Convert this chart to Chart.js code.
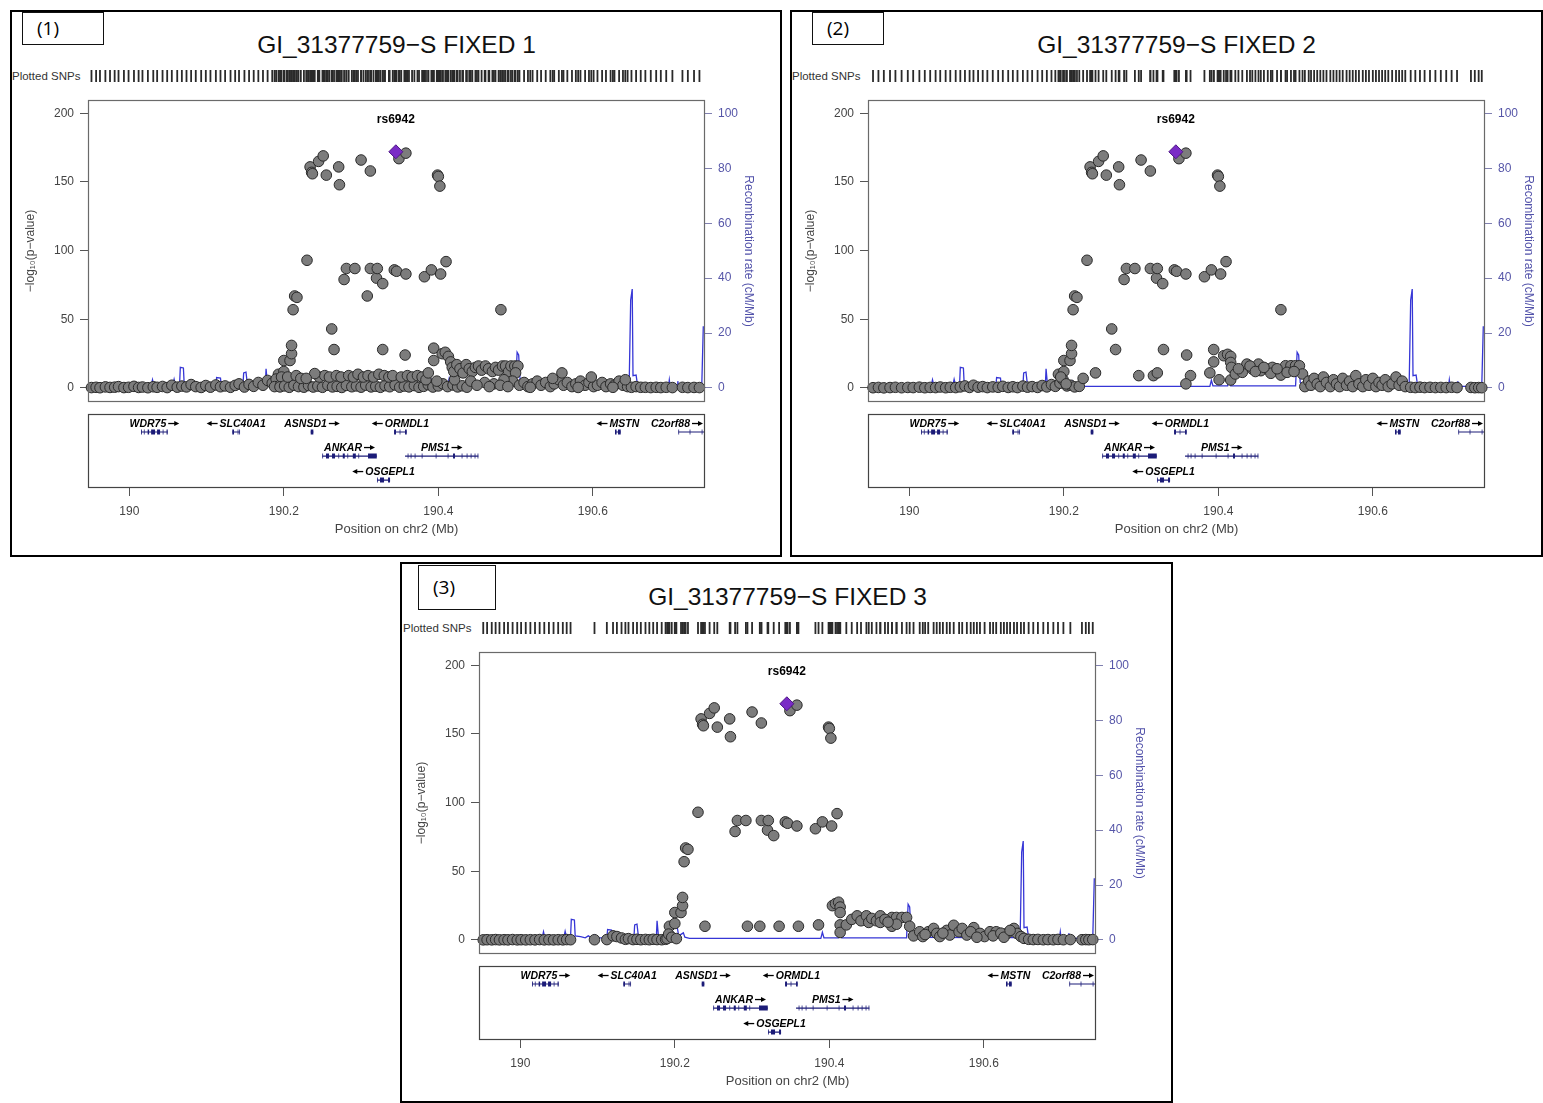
<!DOCTYPE html>
<html>
<head>
<meta charset="utf-8">
<title>GI_31377759-S regional association plots</title>
<script src="https://cdn.jsdelivr.net/npm/chart.js@4.4.0/dist/chart.umd.min.js"></script>
<style>
  html, body { margin: 0; padding: 0; background: #fff; }
  body { position: relative; width: 1543px; height: 1103px; overflow: hidden; font-family: "Liberation Sans", Arial, sans-serif; }
  .frame { position: absolute; border: 2px solid #000; box-sizing: border-box; }
  .tag { position: absolute; border: 1.5px solid #111; box-sizing: border-box; background: #fff; font-family: "Open Sans", sans-serif; font-size: 19px; line-height: 1; display: flex; align-items: center; padding-left: 14px; color: #000; }
  .panel { position: absolute; width: 0; height: 0; }
  .panel canvas { position: absolute; }
  .ptitle { position: absolute; left: 88px; width: 617px; top: 30px; text-align: center; font-size: 24.5px; line-height: 30px; color: #111; white-space: nowrap; }
  .snplab { position: absolute; left: 12px; top: 70px; font-size: 11.5px; line-height: 12px; color: #333; white-space: nowrap; }
</style>
</head>
<body>
<script>
// axes (Mb on chr2, -log10 p, cM/Mb)
const xMin = 189.9465, xMax = 190.7452;
const xTicks = [190, 190.2, 190.4, 190.6];
const pTicks = [0, 50, 100, 150, 200];
const recTicks = [0, 20, 40, 60, 80, 100];
const pMin = -10.2, pMax = 209.7;

const panelTitles = ['GI_31377759\u2212S FIXED 1', 'GI_31377759\u2212S FIXED 2', 'GI_31377759\u2212S FIXED 3'];
const panelTags = ['(1)', '(2)', '(3)'];

// lead SNP
const leadName = 'rs6942';
const leadPos = [190.345];
const leadLogP = [172];

// SNPs with the same signal in all three runs
const sigPos = [
  190.193, 190.200, 190.200, 190.208, 190.210, 190.210, 190.212, 190.214, 190.217, 190.230,
  190.234, 190.236, 190.237, 190.245, 190.251, 190.255, 190.271, 190.272, 190.278, 190.281,
  190.292, 190.300, 190.312, 190.312, 190.320, 190.321, 190.328, 190.343, 190.346, 190.349,
  190.358, 190.358, 190.382, 190.391, 190.399, 190.400, 190.402, 190.403, 190.410
];
const sigLogP = [
  10, 12, 20, 20, 25, 31, 57, 67, 66, 93,
  161, 157, 156, 165, 169, 155, 161, 148, 79, 87,
  87, 166, 158, 87, 80, 87, 76, 86, 85, 167,
  171, 83, 81, 86, 155, 154, 147, 83, 92
];

// run 1 other SNPs
const run1Pos = [
  // left
  189.951, 189.957, 189.962, 189.969, 189.975, 189.981, 189.986, 189.993, 189.999, 190.006,
  190.012, 190.017, 190.024, 190.031, 190.036, 190.043, 190.049, 190.055, 190.062, 190.068,
  190.074, 190.080, 190.086, 190.093, 190.099, 190.105, 190.112, 190.118, 190.124, 190.131,
  190.137, 190.142, 190.149, 190.155, 190.161, 190.167, 190.173, 190.179, 190.185, 190.190,
  190.188, 190.196, 190.204, 190.197,
  // middle, near zero
  190.195, 190.201, 190.207, 190.213, 190.219, 190.226, 190.232, 190.238, 190.244, 190.250,
  190.257, 190.263, 190.269, 190.275, 190.281, 190.288, 190.294, 190.300, 190.306, 190.313,
  190.319, 190.325, 190.331, 190.337, 190.344, 190.350, 190.356, 190.362, 190.369, 190.375,
  190.381, 190.387, 190.393, 190.400, 190.406, 190.412, 190.419, 190.425, 190.431, 190.437,
  // middle band
  190.205, 190.216, 190.222, 190.246, 190.253, 190.259, 190.268, 190.274, 190.284, 190.290,
  190.296, 190.303, 190.309, 190.316, 190.323, 190.330, 190.336, 190.341, 190.352, 190.360,
  190.366, 190.373, 190.379, 190.384, 190.398, 190.421,
  // scattered
  190.308, 190.262, 190.265, 190.328, 190.481, 190.357, 190.394, 190.394, 190.405, 190.409,
  190.413, 190.240, 190.387, 190.229,
  // 190.41 - 190.51
  190.416, 190.418, 190.420, 190.424, 190.428, 190.432, 190.436, 190.440, 190.444, 190.448,
  190.452, 190.456, 190.461, 190.465, 190.470, 190.474, 190.478, 190.483, 190.487, 190.491,
  190.494, 190.499, 190.503, 190.500, 190.496, 190.442, 190.460, 190.472, 190.485, 190.450,
  190.466, 190.480, 190.490,
  // right
  190.505, 190.511, 190.516, 190.522, 190.528, 190.533, 190.539, 190.545, 190.550, 190.556,
  190.562, 190.567, 190.573, 190.578, 190.584, 190.590, 190.595, 190.601, 190.606, 190.612,
  190.617, 190.623, 190.628, 190.634, 190.639, 190.645, 190.650, 190.656, 190.662, 190.668,
  190.675, 190.682, 190.688, 190.695, 190.703, 190.716, 190.723, 190.731, 190.738, 190.519,
  190.548, 190.581, 190.598, 190.626, 190.642, 190.560
];
const run1LogP = [
  0.3, 0.5, 0.2, 0.8, 0.4, 0.6, 1.0, 0.3, 0.5, 1.2,
  0.4, 0.7, 0.2, 0.9, 0.5, 1.1, 0.3, 2.0, 0.6, 1.4,
  0.8, 2.5, 1.0, 0.4, 1.8, 0.6, 2.2, 0.9, 1.5, 0.5,
  1.9, 3.0, 0.7, 2.6, 1.2, 4.0, 2.0, 5.5, 3.5, 6.5,
  1.0, 2.5, 4.5, 8,
  0.8, 1.5, 0.5, 2.0, 1.0, 0.6, 1.8, 0.7, 1.4, 0.5,
  2.0, 0.8, 1.2, 0.4, 1.9, 0.9, 1.5, 0.6, 2.1, 0.8,
  1.3, 0.5, 1.7, 0.9, 2.2, 0.6, 1.4, 0.8, 1.8, 0.5,
  1.2, 2.4, 0.7, 1.5, 3.0, 1.0, 2.2, 0.8, 1.6, 0.6,
  8, 9, 7, 8, 9, 8, 9, 8, 9, 8,
  10, 8, 9, 8, 10, 9, 8, 9, 8, 9,
  8, 9, 8, 6, 5, 6,
  67, 43, 28, 28, 57, 24, 29, 20, 25, 26,
  23, 10.5, 11, 7,
  19, 15, 12, 17, 14, 11, 17, 14, 12, 15,
  16, 13, 16, 14, 12, 15, 13, 16, 16, 12,
  16, 16, 16, 11, 5, 5, 4, 3, 6, 2,
  1, 2, 1,
  2, 4, 1, 3, 5, 2, 4, 1, 3, 6,
  2, 4, 1, 3, 5, 2, 4, 1, 2, 4,
  1, 3, 2, 5, 2, 1, 0.5, 1, 0.5, 0.5,
  0.3, 0.5, 0.3, 0.5, 0.3, 0.5, 0.3, 0.4, 0.3, 0.5,
  7, 0.4, 8, 0.5, 6, 11
];

// run 2 other SNPs
const run2Pos = [
  // left
  189.953, 189.960, 189.967, 189.975, 189.982, 189.990, 189.998, 190.005, 190.013, 190.020,
  190.027, 190.034, 190.040, 190.047, 190.053, 190.060, 190.066, 190.072, 190.078, 190.083,
  190.089, 190.095, 190.101, 190.108, 190.115, 190.121, 190.128, 190.134, 190.140, 190.147,
  190.153, 190.159, 190.166, 190.172, 190.178, 190.184, 190.189, 190.195, 190.199, 190.204,
  190.209, 190.214, 190.220, 190.196, 190.203,
  // middle, sparse
  190.225, 190.241, 190.262, 190.267, 190.297, 190.316, 190.321, 190.329, 190.359, 190.364,
  190.358, 190.389, 190.394, 190.394, 190.401, 190.481,
  // 190.40 - 190.51
  190.407, 190.412, 190.416, 190.416, 190.416, 190.417, 190.422, 190.431, 190.437, 190.444,
  190.452, 190.455, 190.464, 190.470, 190.468, 190.481, 190.487, 190.494, 190.500, 190.505,
  190.489, 190.509, 190.426, 190.441, 190.448, 190.459, 190.476, 190.498,
  // right
  190.512, 190.517, 190.520, 190.524, 190.528, 190.532, 190.536, 190.540, 190.545, 190.549,
  190.553, 190.557, 190.561, 190.566, 190.570, 190.574, 190.578, 190.582, 190.587, 190.591,
  190.595, 190.600, 190.604, 190.608, 190.612, 190.616, 190.620, 190.625, 190.630, 190.634,
  190.638, 190.642, 190.649, 190.655, 190.661, 190.667, 190.674, 190.681, 190.688, 190.695,
  190.702, 190.709, 190.727, 190.732, 190.737, 190.741
];
const run2LogP = [
  0.2, 0.4, 0.1, 0.3, 0.5, 0.2, 0.4, 0.3, 0.6, 0.2,
  0.4, 0.3, 0.7, 0.2, 0.5, 0.3, 0.8, 1.5, 0.4, 2.0,
  0.6, 1.0, 0.3, 0.8, 0.5, 1.2, 0.4, 0.9, 0.3, 1.4,
  0.6, 1.0, 0.4, 1.8, 0.8, 2.5, 1.2, 3.5, 6.0, 1.5,
  2.0, 0.8, 1.2, 8, 3,
  7, 11, 43, 28, 9, 9, 11, 28, 24, 9,
  3, 11, 28, 19, 6, 57,
  23.5, 24.5, 23, 18.6, 5.8, 15, 10.2, 11.4, 17.4, 13.8,
  17.4, 12.6, 13.8, 15, 10.7, 9.4, 16.2, 16.2, 16.2, 16.2,
  11.4, 10.2, 14, 16, 12, 15, 14, 12,
  1, 5, 2, 7, 3, 1, 8, 4, 1, 6,
  3, 1, 7, 2, 5, 1, 9, 3, 1, 6,
  2, 7, 1, 4, 2, 6, 1, 3, 8, 2,
  5, 1, 0.5, 0.3, 0.6, 0.3, 0.5, 0.3, 0.4, 0.3,
  0.5, 0.3, 0.4, 0.2, 0.3, 0.2
];

// run 3 other SNPs
const run3Pos = [
  // left
  189.952, 189.957, 189.963, 189.968, 189.973, 189.979, 189.984, 189.990, 189.996, 190.001,
  190.007, 190.013, 190.019, 190.025, 190.031, 190.037, 190.043, 190.049, 190.055, 190.060,
  190.065, 190.096, 190.112, 190.120, 190.125, 190.131, 190.136, 190.140, 190.146, 190.151,
  190.156, 190.162, 190.167, 190.172, 190.177, 190.183, 190.188, 190.190, 190.192, 190.196,
  190.202,
  // middle, sparse
  190.239, 190.294, 190.310, 190.335, 190.360, 190.386,
  // 190.40 - 190.51
  190.404, 190.408, 190.412, 190.414, 190.414, 190.414, 190.414, 190.422, 190.429, 190.436,
  190.441, 190.448, 190.451, 190.455, 190.461, 190.466, 190.466, 190.481, 190.487, 190.494,
  190.500, 190.481, 190.487, 190.504, 190.472, 190.476,
  // right
  190.509, 190.517, 190.521, 190.528, 190.535, 190.539, 190.543, 190.552, 190.556, 190.561,
  190.568, 190.572, 190.578, 190.587, 190.595, 190.601, 190.608, 190.616, 190.630, 190.639,
  190.643, 190.648, 190.652, 190.658, 190.664, 190.670, 190.677, 190.683, 190.690, 190.696,
  190.703, 190.712, 190.727, 190.732, 190.736, 190.741, 190.524, 190.547, 190.583, 190.591,
  190.612, 190.622, 190.626, 190.634
];
const run3LogP = [
  0.1, 0.2, 0.1, 0.3, 0.1, 0.2, 0.1, 0.3, 0.1, 0.2,
  0.1, 0.2, 0.1, 0.3, 0.1, 0.2, 0.1, 0.2, 0.1, 0.3,
  0.2, 0.2, 0.3, 3.0, 2.5, 1.5, 0.5, 1.0, 0.3, 0.5,
  0.2, 0.4, 0.2, 0.5, 0.3, 0.2, 0.5, 1.0, 4.3, 2.0,
  1.0,
  10, 10, 10, 10, 10, 11,
  25, 26.5, 27.5, 24, 20, 11, 5.5, 11, 15, 17.6,
  14, 17.6, 12.8, 15.7, 14, 17.6, 12.8, 16.4, 16.4, 16.4,
  16.4, 10, 11.5, 10, 15, 13,
  3, 6, 2.5, 6, 8.4, 4.8, 2.5, 7, 3.6, 10.7,
  6, 8.4, 3.6, 9, 4.8, 2.5, 6, 6, 4.8, 8.4,
  4.8, 2.5, 1.2, 0.5, 0.3, 0.4, 0.2, 0.3, 0.2, 0.4,
  0.2, 0.3, 0.2, 0.3, 0.2, 0.3, 4, 5, 6, 2,
  3, 5, 2, 7
];

// recombination rate (cM/Mb)
const recPos = [
  189.9465, 189.990, 190.028, 190.030, 190.032, 190.056, 190.058, 190.060, 190.065, 190.066,
  190.070, 190.071, 190.078, 190.084, 190.088, 190.093, 190.096, 190.100, 190.112, 190.113,
  190.118, 190.119, 190.130, 190.147, 190.148, 190.151, 190.153, 190.157, 190.165, 190.176,
  190.177, 190.179, 190.190, 190.198, 190.202, 190.205, 190.211, 190.213, 190.219, 190.300,
  190.389, 190.391, 190.393, 190.412, 190.414, 190.416, 190.500, 190.502, 190.504, 190.506,
  190.510, 190.600, 190.647, 190.649, 190.651, 190.652, 190.656, 190.658, 190.698, 190.699,
  190.700, 190.709, 190.710, 190.711, 190.741, 190.743
];
const recRate = [
  0.3, 0.3, 0.4, 3.0, 0.5, 0.5, 3.2, 0.8, 1.0, 7.5,
  7.3, 1.5, 1.2, 0.8, 1.5, 0.6, 1.8, 0.8, 0.8, 3.8,
  3.6, 0.8, 0.5, 0.6, 5.5, 5.8, 1.0, 1.4, 0.5, 0.6,
  7.0, 0.6, 0.8, 5.0, 6.5, 1.5, 2.6, 1.0, 0.6, 0.6,
  0.6, 2.8, 0.8, 0.8, 3.5, 0.8, 0.8, 13.0, 12.0, 2.0,
  1.0, 0.9, 0.9, 32.0, 36.0, 4.5, 4.7, 0.8, 0.8, 3.0,
  0.8, 0.8, 2.5, 0.6, 0.6, 22.5
];

// genes
const geneNames = ['WDR75', 'SLC40A1', 'ASNSD1', 'ORMDL1', 'MSTN', 'C2orf88', 'ANKAR', 'PMS1', 'OSGEPL1'];
const geneStrand = ['+', '-', '+', '-', '-', '+', '+', '+', '-'];
const geneRow = [1, 1, 1, 1, 1, 1, 2, 2, 3];
const geneStart = [190.0151, 190.1333, 190.2348, 190.3427, 190.6287, 190.7107, 190.2498, 190.3569, 190.3206];
const geneEnd = [190.0497, 190.1433, 190.2382, 190.3591, 190.6361, 190.7600, 190.3203, 190.4518, 190.3375];
const geneExons = [
  [[190.0151, 190.0162], [190.0188, 190.0198], [190.0237, 190.0256], [190.0282, 190.0333], [190.0359, 190.0398], [190.0432, 190.0442], [190.0482, 190.0497]],
  [[190.1333, 190.1355], [190.1383, 190.1393], [190.1402, 190.1412], [190.1423, 190.1433]],
  [[190.2348, 190.2382]],
  [[190.3427, 190.3452], [190.3499, 190.3509], [190.3569, 190.3591]],
  [[190.6287, 190.6307], [190.6326, 190.6361]],
  [[190.7107, 190.7117], [190.7253, 190.7263], [190.7409, 190.7419]],
  [[190.2498, 190.2508], [190.2546, 190.2585], [190.2624, 190.2663], [190.2706, 190.2716], [190.2763, 190.2789], [190.2823, 190.2833], [190.2893, 190.2932], [190.2965, 190.2975], [190.3090, 190.3203]],
  [[190.3569, 190.3579], [190.3603, 190.3613], [190.3642, 190.3652], [190.3694, 190.3704], [190.3785, 190.3795], [190.3966, 190.3976], [190.4121, 190.4131], [190.4190, 190.4216], [190.4302, 190.4312], [190.4367, 190.4377], [190.4419, 190.4429], [190.4470, 190.4480], [190.4508, 190.4518]],
  [[190.3206, 190.3216], [190.3245, 190.3297], [190.3349, 190.3375]]
];

// page layout: panel offsets, outer frames and (n) tags
const panelBoxes = [
  { dx: 0, dy: 0, frame: [10, 10, 772, 547], tag: [22, 12, 82, 33] },
  { dx: 780, dy: 0, frame: [790, 10, 753, 547], tag: [812, 12, 72, 33] },
  { dx: 391, dy: 552, frame: [400, 562, 773, 541], tag: [418, 565, 78, 45] }
];

Chart.defaults.font.family = '"Liberation Sans", Arial, Helvetica, sans-serif';
Chart.defaults.animation = false;

const pts = (xs, ys) => xs.map((x, i) => ({ x, y: ys[i] }));
const fixTicks = arr => s => { s.ticks = arr.map(v => ({ value: v })); };

// box around the plotting region
const frameBox = {
  id: 'frameBox',
  afterDatasetsDraw(chart, args, opts) {
    const a = chart.chartArea, ctx = chart.ctx;
    ctx.save();
    ctx.strokeStyle = opts.color || '#666';
    ctx.lineWidth = opts.width || 1;
    ctx.strokeRect(Math.round(a.left) + 0.5, Math.round(a.top) + 0.5, Math.round(a.width) - 1, Math.round(a.height) - 1);
    ctx.restore();
  }
};

const leadLabel = {
  id: 'leadLabel',
  afterDatasetsDraw(chart) {
    const { ctx, scales: { x, y } } = chart;
    ctx.save();
    ctx.font = 'bold 12px "Liberation Sans", Arial, sans-serif';
    ctx.fillStyle = '#000';
    ctx.textAlign = 'center';
    ctx.textBaseline = 'middle';
    ctx.fillText(leadName, x.getPixelForValue(leadPos[0]), y.getPixelForValue(leadLogP[0]) - 32);
    ctx.restore();
  }
};

// gene name with strand arrow (—►), centred over the gene
function strandArrow(ctx, x0, x1, y) {
  const dir = x1 > x0 ? 1 : -1;
  ctx.beginPath();
  ctx.moveTo(x0, y);
  ctx.lineTo(x1 - dir * 4, y);
  ctx.lineWidth = 1.3;
  ctx.stroke();
  ctx.beginPath();
  ctx.moveTo(x1, y);
  ctx.lineTo(x1 - dir * 5, y - 2.5);
  ctx.lineTo(x1 - dir * 5, y + 2.5);
  ctx.closePath();
  ctx.fill();
}

const geneLabels = {
  id: 'geneLabels',
  afterDatasetsDraw(chart) {
    const { ctx, chartArea: a, scales: { x, y } } = chart;
    const arrowLen = 11, gap = 2;
    ctx.save();
    ctx.font = 'italic bold 10.5px "Liberation Sans", Arial, sans-serif';
    ctx.fillStyle = '#000';
    ctx.strokeStyle = '#000';
    ctx.textAlign = 'left';
    ctx.textBaseline = 'alphabetic';
    geneNames.forEach((name, i) => {
      const tw = ctx.measureText(name).width;
      const w = tw + gap + arrowLen;
      const l = Math.max(x.getPixelForValue(geneStart[i]), a.left);
      const r = Math.min(x.getPixelForValue(geneEnd[i]), a.right);
      const cx = Math.min(Math.max((l + r) / 2, a.left + w / 2 + 2), a.right - w / 2 - 2);
      const left = cx - w / 2;
      const base = y.getPixelForValue(geneRow[i]) - 5;
      const ay = base - 3.5;
      if (geneStrand[i] === '+') {
        ctx.fillText(name, left, base);
        strandArrow(ctx, left + tw + gap, left + w, ay);
      } else {
        strandArrow(ctx, left + arrowLen, left, ay);
        ctx.fillText(name, left + arrowLen + gap, base);
      }
    });
    ctx.restore();
  }
};

function rugChart(canvas, pos) {
  return new Chart(canvas, {
    type: 'scatter',
    data: { datasets: [{
      data: pos.map(x => ({ x, y: 0 })),
      pointStyle: 'line', rotation: 90, pointRadius: 6,
      borderColor: '#2a2a2a', borderWidth: 1.8, clip: false
    }] },
    options: {
      responsive: false, events: [],
      layout: { padding: { left: 68, right: 55, top: 0, bottom: 0 } },
      plugins: { legend: { display: false }, tooltip: { enabled: false } },
      scales: {
        x: { type: 'linear', min: xMin, max: xMax, display: false },
        y: { min: -1, max: 1, display: false }
      }
    }
  });
}

function mainChart(canvas, pos, logp) {
  return new Chart(canvas, {
    type: 'scatter',
    data: { datasets: [
      { data: pts(leadPos, leadLogP), pointStyle: 'rectRot', pointRadius: 7,
        backgroundColor: '#7a2bc6', borderColor: '#4d1585', borderWidth: 1, order: 0, clip: false },
      { data: pts(pos, logp), pointRadius: 5.3,
        backgroundColor: '#7c7c7c', borderColor: '#2a2a2a', borderWidth: 1, order: 1, clip: false },
      { data: pts(recPos, recRate), yAxisID: 'rec', showLine: true, pointRadius: 0,
        borderColor: '#3636d6', borderWidth: 1.3, order: 2 }
    ] },
    options: {
      responsive: false, events: [],
      layout: { padding: { top: 8, bottom: 7, left: 0, right: 0 } },
      plugins: { legend: { display: false }, tooltip: { enabled: false }, frameBox: { color: '#6a6a6a', width: 1.2 } },
      scales: {
        x: { type: 'linear', min: xMin, max: xMax, display: false },
        y: {
          position: 'left', min: pMin, max: pMax,
          afterBuildTicks: fixTicks(pTicks),
          afterFit: s => { s.width = 68; s.paddingTop = 0; s.paddingBottom = 0; },
          ticks: { color: '#444', font: { size: 12 }, padding: 6, callback: v => String(v) },
          grid: { drawOnChartArea: false, tickLength: 8, color: '#555' },
          border: { display: false },
          title: { display: true, text: '\u2212log\u2081\u2080(p\u2212value)', color: '#444', font: { size: 12 }, padding: { top: 3, bottom: 0 } }
        },
        rec: {
          position: 'right', min: pMin / 2, max: pMax / 2,
          afterBuildTicks: fixTicks(recTicks),
          afterFit: s => { s.width = 55; s.paddingTop = 0; s.paddingBottom = 0; },
          ticks: { color: '#5656a8', font: { size: 12 }, padding: 6, callback: v => String(v) },
          grid: { drawOnChartArea: false, tickLength: 7, color: '#8080b0' },
          border: { display: false },
          title: { display: true, text: 'Recombination rate (cM/Mb)', color: '#5252aa', font: { size: 12 }, padding: { top: 4, bottom: 0 } }
        }
      }
    },
    plugins: [frameBox, leadLabel]
  });
}

function geneChart(canvas) {
  const intronPts = [], exonPts = [];
  geneNames.forEach((g, i) => {
    intronPts.push({ x: geneStart[i], y: geneRow[i] }, { x: geneEnd[i], y: geneRow[i] }, { x: geneEnd[i], y: null });
    geneExons[i].forEach(([s, e]) => {
      exonPts.push({ x: s, y: geneRow[i] }, { x: e, y: geneRow[i] }, { x: e, y: null });
    });
  });
  return new Chart(canvas, {
    type: 'scatter',
    data: { datasets: [
      { data: intronPts, showLine: true, spanGaps: false, pointRadius: 0, borderColor: '#1c1c78', borderWidth: 1.2 },
      { data: exonPts, showLine: true, spanGaps: false, pointRadius: 0, borderColor: '#1c1c78', borderWidth: 5, borderCapStyle: 'butt' }
    ] },
    options: {
      responsive: false, events: [],
      layout: { padding: { top: 6, left: 68, right: 55, bottom: 0 } },
      plugins: { legend: { display: false }, tooltip: { enabled: false }, frameBox: { color: '#444', width: 1.2 } },
      scales: {
        x: {
          type: 'linear', position: 'bottom', min: xMin, max: xMax,
          afterBuildTicks: fixTicks(xTicks),
          afterFit: s => { s.height = 60; s.paddingLeft = 0; s.paddingRight = 0; },
          ticks: { color: '#444', font: { size: 12 }, padding: 8, maxRotation: 0, autoSkip: false, callback: v => String(v) },
          grid: { drawOnChartArea: false, tickLength: 8, color: '#555' },
          border: { display: false },
          title: { display: true, text: 'Position on chr2 (Mb)', color: '#444', font: { size: 13 }, padding: { top: 0, bottom: 11 } }
        },
        y: { display: false, min: 0.25, max: 3.33, reverse: true }
      }
    },
    plugins: [frameBox, geneLabels]
  });
}

const runs = [
  { pos: sigPos.concat(run1Pos), logp: sigLogP.concat(run1LogP) },
  { pos: sigPos.concat(run2Pos), logp: sigLogP.concat(run2LogP) },
  { pos: sigPos.concat(run3Pos), logp: sigLogP.concat(run3LogP) }
];

const px = v => v + 'px';
const tags = [];
panelBoxes.forEach((pb, i) => {
  const frame = document.createElement('div');
  frame.className = 'frame';
  Object.assign(frame.style, { left: px(pb.frame[0]), top: px(pb.frame[1]), width: px(pb.frame[2]), height: px(pb.frame[3]) });
  document.body.appendChild(frame);

  const panel = document.createElement('div');
  panel.className = 'panel';
  panel.style.left = px(pb.dx);
  panel.style.top = px(pb.dy);
  panel.innerHTML = `
    <div class="ptitle">${panelTitles[i]}</div>
    <div class="snplab">Plotted SNPs</div>
    <canvas class="rug" width="740" height="24" style="left:20px;top:64px"></canvas>
    <canvas class="main" width="740" height="318" style="left:20px;top:92px"></canvas>
    <canvas class="genes" width="740" height="140" style="left:20px;top:408px"></canvas>`;
  document.body.appendChild(panel);

  const run = runs[i];
  rugChart(panel.querySelector('.rug'), run.pos.concat(leadPos));
  mainChart(panel.querySelector('.main'), run.pos, run.logp);
  geneChart(panel.querySelector('.genes'));

  const tag = document.createElement('div');
  tag.className = 'tag';
  Object.assign(tag.style, { left: px(pb.tag[0]), top: px(pb.tag[1]), width: px(pb.tag[2]), height: px(pb.tag[3]) });
  tag.textContent = panelTags[i];
  tags.push(tag);
});
tags.forEach(t => document.body.appendChild(t));
</script>
</body>
</html>
